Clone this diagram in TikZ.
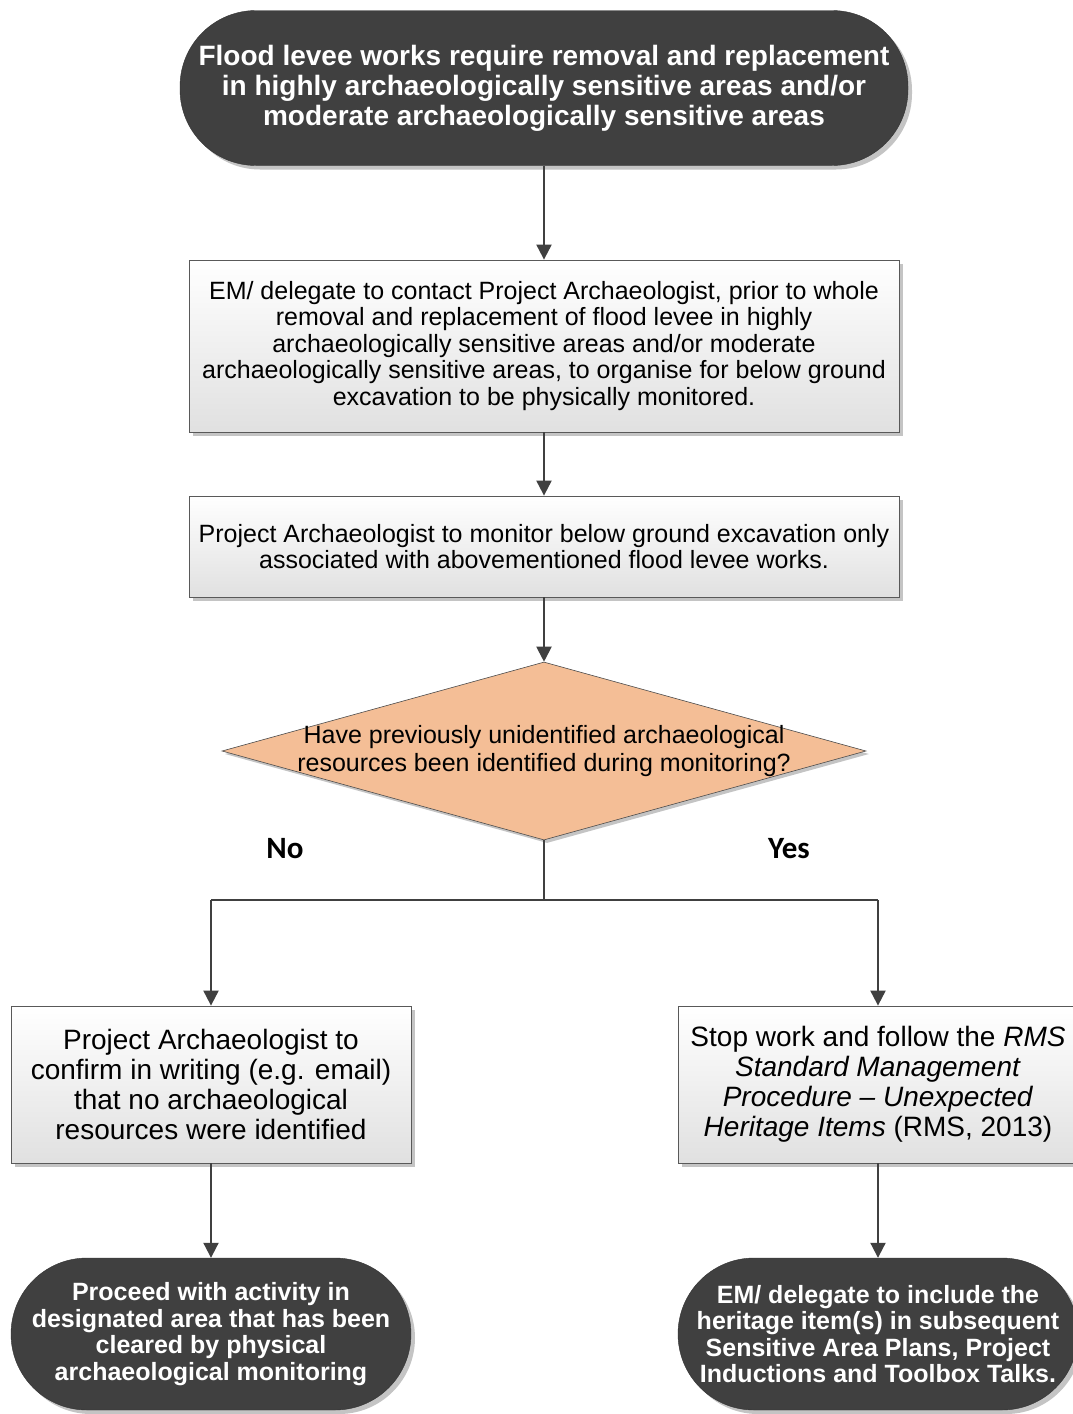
\documentclass[tikz,border=0pt]{standalone}
\usepackage{fontspec}
\setmainfont{Liberation Sans}
\newfontfamily\labfont{Carlito}
\usetikzlibrary{shapes.geometric,shadows,arrows.meta}
\definecolor{term}{HTML}{404040}
\definecolor{dia}{HTML}{F4BE96}
\definecolor{arr}{HTML}{404040}
\definecolor{shad}{HTML}{C4C4C4}
\begin{document}
\begin{tikzpicture}[x=1pt,y=-1pt,
  terminal/.style={draw=term!80!black,fill=term,rounded corners=76pt,text=white,
    font=\bfseries,align=center,inner sep=0pt,
    drop shadow={shadow xshift=4pt,shadow yshift=-4pt,fill=shad,opacity=1}},
  procbox/.style={draw=black!65,line width=0.8pt,top color=white,bottom color=black!12,
    align=center,inner sep=0pt,
    drop shadow={shadow xshift=4pt,shadow yshift=-4pt,fill=shad,opacity=1}},
  decision/.style={diamond,draw=black!70,line width=0.6pt,fill=dia,inner sep=0pt,
    drop shadow={shadow xshift=3pt,shadow yshift=-3pt,fill=shad,opacity=1}},
  flow/.style={draw=arr,line width=2pt,-{Triangle[width=15pt,length=15pt]}},
  plainline/.style={draw=arr,line width=2pt},
  lab/.style={font=\labfont\bfseries\fontsize{31}{33}\selectfont}
]
\useasboundingbox (0,0) rectangle (1073,1414);
\fill[white] (0,0) rectangle (1073,1414);

\node[terminal,minimum width=728pt,minimum height=155pt,
  font=\bfseries\fontsize{28}{30}\selectfont] (top) at (544,88)
  {Flood levee works require removal and replacement\\in highly archaeologically sensitive areas and/or\\moderate archaeologically sensitive areas};

\node[procbox,minimum width=710pt,minimum height=172pt,
  font=\fontsize{25}{26.5}\selectfont] (b1) at (544,346)
  {EM/ delegate to contact Project Archaeologist, prior to whole\\removal and replacement of flood levee in highly\\archaeologically sensitive areas and/or moderate\\archaeologically sensitive areas, to organise for below ground\\excavation to be physically monitored.};

\node[procbox,minimum width=710pt,minimum height=101pt,
  font=\fontsize{25}{26.5}\selectfont] (b2) at (544,546.5)
  {Project Archaeologist to monitor below ground excavation only\\associated with abovementioned flood levee works.};

\node[decision,minimum width=644pt,minimum height=178pt] (dia) at (544,751) {};
\node[align=center,inner sep=0pt,font=\fontsize{25}{28}\selectfont] (diatext) at (544,751)
  {Have previously unidentified archaeological\\resources been identified during monitoring?};

\node[lab] (no) at (285,849) {No};
\node[lab] (yes) at (789,849) {Yes};

\node[procbox,minimum width=400pt,minimum height=157pt,
  font=\fontsize{28}{30}\selectfont] (left) at (211,1084.5)
  {Project Archaeologist to\\confirm in writing (e.g. email)\\that no archaeological\\resources were identified};

\node[procbox,minimum width=400pt,minimum height=157pt,
  font=\fontsize{28}{30}\selectfont] (right) at (878,1084.5)
  {Stop work and follow the \textit{RMS}\\\textit{Standard Management}\\\textit{Procedure -- Unexpected}\\\textit{Heritage Items} (RMS, 2013)};

\node[terminal,minimum width=400pt,minimum height=152pt,
  font=\bfseries\fontsize{25}{26.5}\selectfont] (bl) at (211,1334)
  {Proceed with activity in\\designated area that has been\\cleared by physical\\archaeological monitoring};

\node[terminal,minimum width=400pt,minimum height=152pt,
  font=\bfseries\fontsize{25}{26.5}\selectfont] (br) at (878,1334)
  {EM/ delegate to include the\\heritage item(s) in subsequent\\Sensitive Area Plans, Project\\Inductions and Toolbox Talks.};

\coordinate (split) at (544,900);
\coordinate (splitL) at (211,900);
\coordinate (splitR) at (878,900);

\draw[flow] (top.south) -- (b1.north);
\draw[flow] (b1.south) -- (b2.north);
\draw[flow] (b2.south) -- (dia.north);
\draw[plainline] (dia.south) -- (split);
\draw[plainline] (splitL) -- (splitR);
\draw[flow] (splitL) -- (left.north);
\draw[flow] (splitR) -- (right.north);
\draw[flow] (left.south) -- (bl.north);
\draw[flow] (right.south) -- (br.north);
\end{tikzpicture}
\end{document}
